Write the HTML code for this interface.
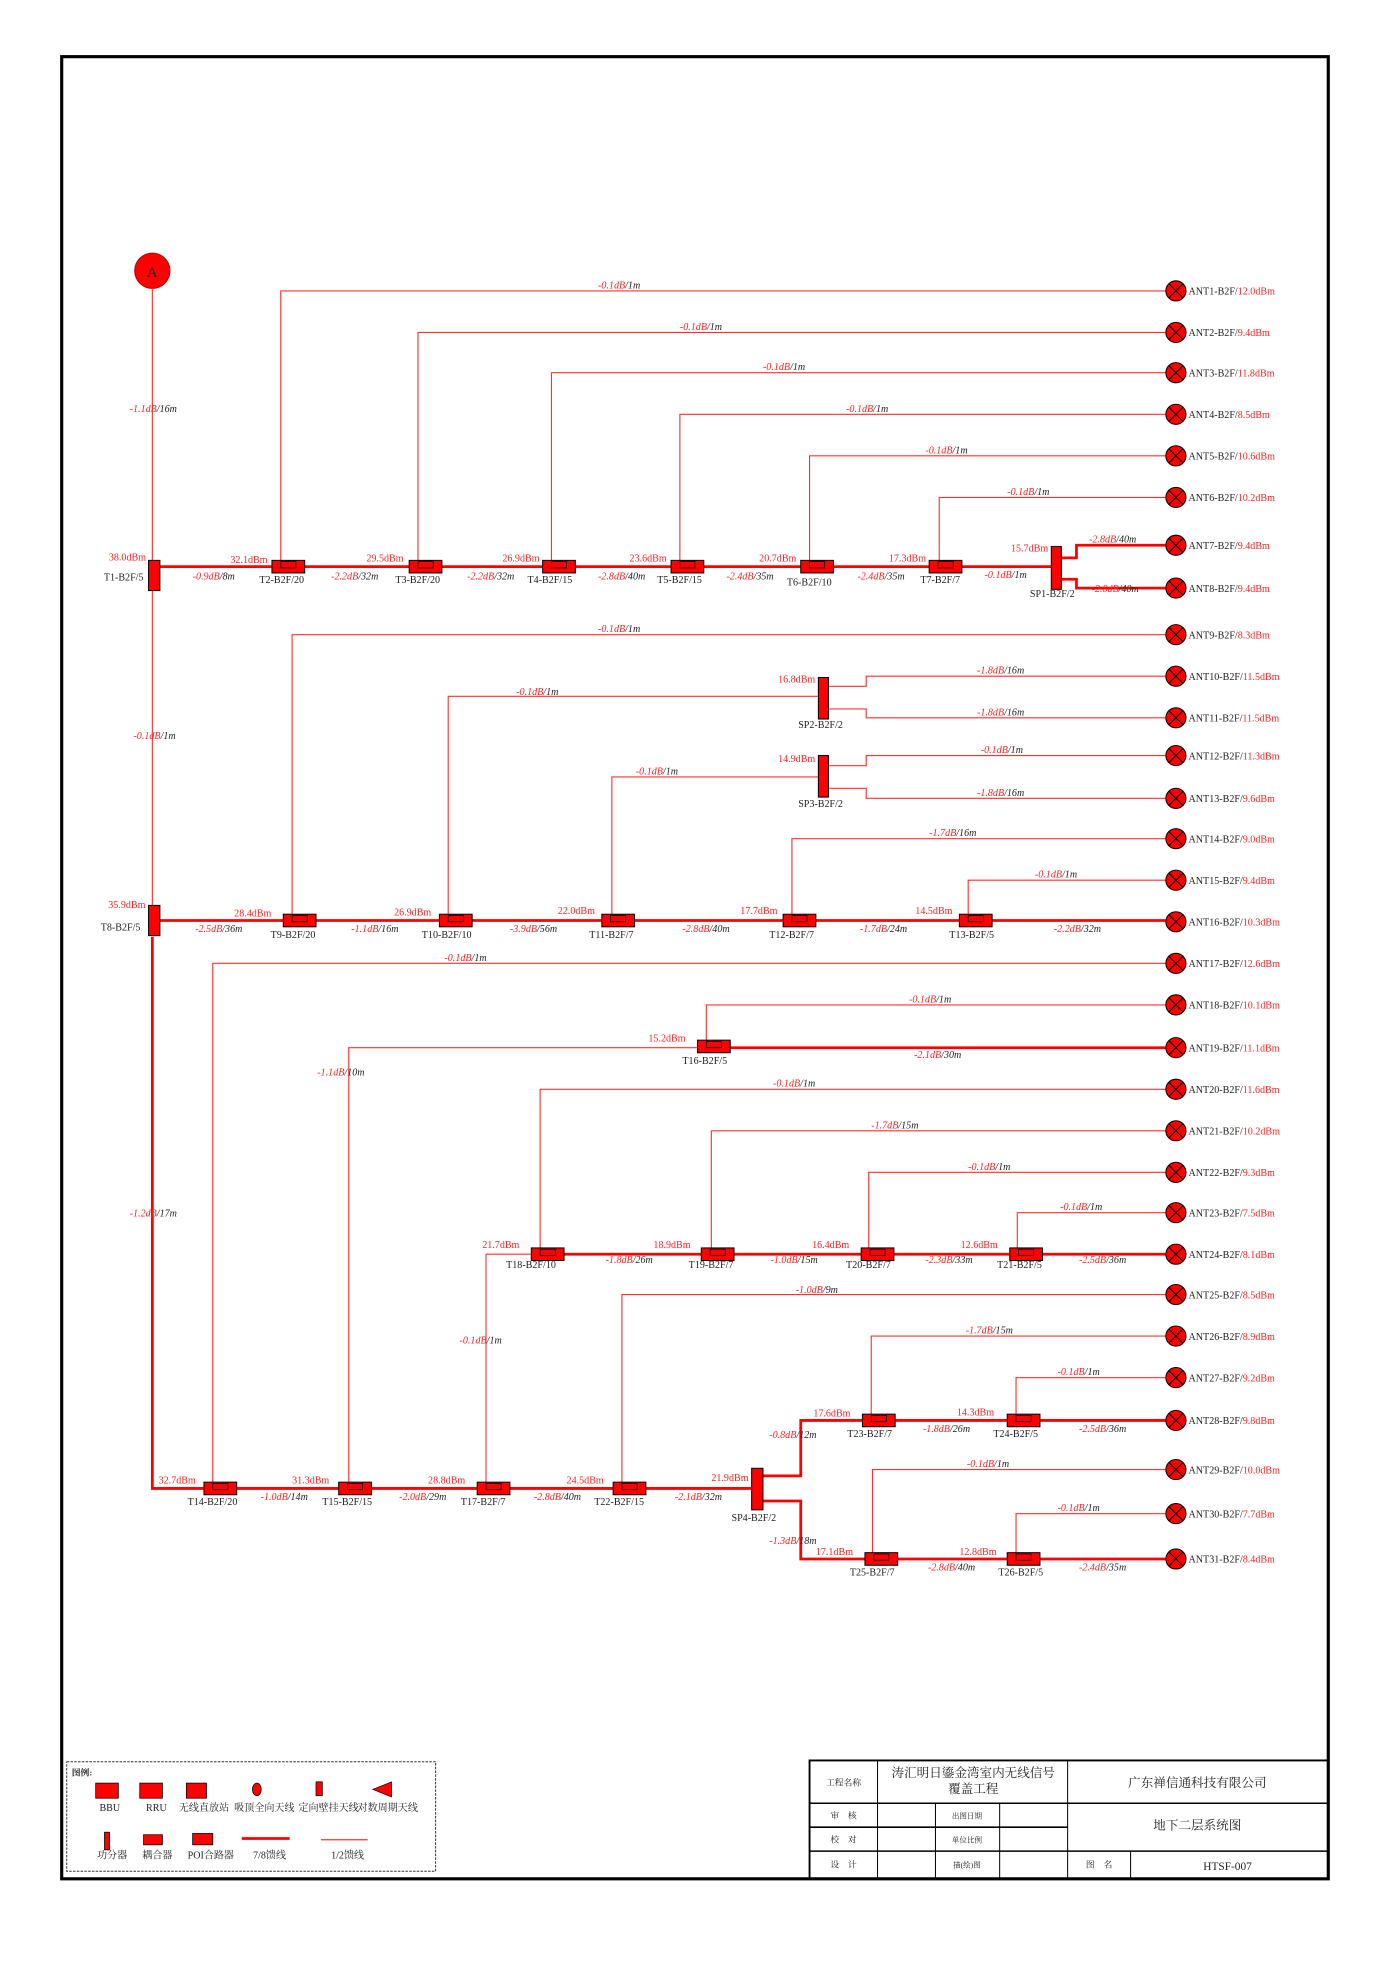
<!DOCTYPE html>
<html><head><meta charset="utf-8">
<style>
html,body{margin:0;padding:0;background:#fff;}
svg{display:block;}
text{font-family:"Liberation Serif","Noto Serif CJK SC",serif;font-size:8px;}
.r{fill:#ff2020;}
.k{fill:#222;}
.l{font-style:italic;}
.tk{stroke:#ff0000;stroke-width:2.2;fill:none;}
.tn{stroke:#ff3030;stroke-width:0.9;fill:none;}
.cn{font-family:"Liberation Serif","Noto Serif CJK SC",serif;}
</style></head><body>
<svg width="1395" height="1972" viewBox="0 0 1108 1566" preserveAspectRatio="none" xmlns="http://www.w3.org/2000/svg">
<defs>
<g id="tap"><rect x="-13" y="-6" width="26" height="10" fill="#f00" stroke="#000" stroke-width="0.8"/><rect x="-6" y="-5" width="12" height="5" fill="none" stroke="#000" stroke-width="0.6"/></g>
<g id="ant"><circle r="8" fill="#f00" stroke="#000" stroke-width="0.8"/><path d="M-5.6,-5.6L5.6,5.6M5.6,-5.6L-5.6,5.6" stroke="#000" stroke-width="0.9"/></g>
</defs>
<rect x="49" y="45" width="1006" height="1447" fill="none" stroke="#000" stroke-width="2.5"/>

<circle cx="121" cy="215" r="14" fill="#f00" stroke="#b00" stroke-width="0.8"/>
<text x="121" y="220" text-anchor="middle" style="font-size:12px" class="k">A</text>

<path class="tn" d="M121,229V445M121,469V720"/>
<path class="tk" d="M121,744V1182H597"/>
<text x="103" y="327" class="l"><tspan class="r">-1.1dB</tspan><tspan class="k">/16m</tspan></text>
<text x="106" y="587" class="l"><tspan class="r">-0.1dB</tspan><tspan class="k">/1m</tspan></text>
<text x="103" y="966" class="l"><tspan class="r">-1.2dB</tspan><tspan class="k">/17m</tspan></text>

<path class="tk" d="M127,450H835"/>
<path class="tn" d="M223,450V231H926M332,450V264H926M438,450V296H926M540,450V329H926M643,450V362H926M746,450V395H926"/>
<path class="tk" d="M843,443H855V433H926M843,460H855V467H926"/>
<rect x="118" y="445" width="9" height="24" fill="#f00" stroke="#000" stroke-width="0.8"/>
<text x="116" y="445" text-anchor="end" class="r">38.0dBm</text>
<text x="114" y="461" text-anchor="end" class="k">T1-B2F/5</text>
<use href="#tap" x="229" y="451"/><use href="#tap" x="338" y="451"/><use href="#tap" x="444" y="451"/>
<use href="#tap" x="546" y="451"/><use href="#tap" x="649" y="451"/><use href="#tap" x="751" y="451"/>
<rect x="835" y="434" width="8" height="34" fill="#f00" stroke="#000" stroke-width="0.8"/>
<text x="183" y="447" class="r">32.1dBm</text><text x="291" y="446" class="r">29.5dBm</text><text x="399" y="446" class="r">26.9dBm</text>
<text x="500" y="446" class="r">23.6dBm</text><text x="603" y="446" class="r">20.7dBm</text><text x="706" y="446" class="r">17.3dBm</text>
<text x="803" y="438" class="r">15.7dBm</text>
<text x="206" y="463" class="k">T2-B2F/20</text><text x="314" y="463" class="k">T3-B2F/20</text><text x="419" y="463" class="k">T4-B2F/15</text>
<text x="522" y="463" class="k">T5-B2F/15</text><text x="625" y="465" class="k">T6-B2F/10</text><text x="731" y="463" class="k">T7-B2F/7</text>
<text x="818" y="474" class="k">SP1-B2F/2</text>
<g class="l">
<text x="153" y="460"><tspan class="r">-0.9dB</tspan><tspan class="k">/8m</tspan></text>
<text x="263" y="460"><tspan class="r">-2.2dB</tspan><tspan class="k">/32m</tspan></text>
<text x="371" y="460"><tspan class="r">-2.2dB</tspan><tspan class="k">/32m</tspan></text>
<text x="475" y="460"><tspan class="r">-2.8dB</tspan><tspan class="k">/40m</tspan></text>
<text x="577" y="460"><tspan class="r">-2.4dB</tspan><tspan class="k">/35m</tspan></text>
<text x="681" y="460"><tspan class="r">-2.4dB</tspan><tspan class="k">/35m</tspan></text>
<text x="782" y="459"><tspan class="r">-0.1dB</tspan><tspan class="k">/1m</tspan></text>
<text x="865" y="431"><tspan class="r">-2.8dB</tspan><tspan class="k">/40m</tspan></text>
<text x="867" y="470"><tspan class="r">-2.8dB</tspan><tspan class="k">/40m</tspan></text>
<text x="475" y="229"><tspan class="r">-0.1dB</tspan><tspan class="k">/1m</tspan></text>
<text x="540" y="262"><tspan class="r">-0.1dB</tspan><tspan class="k">/1m</tspan></text>
<text x="606" y="294"><tspan class="r">-0.1dB</tspan><tspan class="k">/1m</tspan></text>
<text x="672" y="327"><tspan class="r">-0.1dB</tspan><tspan class="k">/1m</tspan></text>
<text x="735" y="360"><tspan class="r">-0.1dB</tspan><tspan class="k">/1m</tspan></text>
<text x="800" y="393"><tspan class="r">-0.1dB</tspan><tspan class="k">/1m</tspan></text>
</g>

<path class="tk" d="M127,731H926"/>
<path class="tn" d="M232,731V504H926M356,731V553H650M486,731V617H650M629,731V666H926M769,731V699H926"/>
<path class="tn" d="M658,545H688V537H926M658,563H688V570H926M658,608H688V600H926M658,626H688V634H926"/>
<rect x="118" y="719" width="9" height="24" fill="#f00" stroke="#000" stroke-width="0.8"/>
<rect x="650" y="538" width="8" height="33" fill="#f00" stroke="#000" stroke-width="0.8"/>
<rect x="650" y="600" width="8" height="33" fill="#f00" stroke="#000" stroke-width="0.8"/>
<use href="#tap" x="238" y="732"/><use href="#tap" x="362" y="732"/><use href="#tap" x="491" y="732"/>
<use href="#tap" x="635" y="732"/><use href="#tap" x="775" y="732"/>
<text x="86" y="721" class="r">35.9dBm</text><text x="80" y="739" class="k">T8-B2F/5</text>
<text x="186" y="728" class="r">28.4dBm</text><text x="313" y="727" class="r">26.9dBm</text><text x="443" y="726" class="r">22.0dBm</text>
<text x="588" y="726" class="r">17.7dBm</text><text x="727" y="726" class="r">14.5dBm</text>
<text x="618" y="542" class="r">16.8dBm</text><text x="618" y="605" class="r">14.9dBm</text>
<text x="634" y="578" class="k">SP2-B2F/2</text><text x="634" y="641" class="k">SP3-B2F/2</text>
<text x="215" y="745" class="k">T9-B2F/20</text><text x="335" y="745" class="k">T10-B2F/10</text><text x="468" y="745" class="k">T11-B2F/7</text>
<text x="611" y="745" class="k">T12-B2F/7</text><text x="754" y="745" class="k">T13-B2F/5</text>
<g class="l">
<text x="155" y="740"><tspan class="r">-2.5dB</tspan><tspan class="k">/36m</tspan></text>
<text x="279" y="740"><tspan class="r">-1.1dB</tspan><tspan class="k">/16m</tspan></text>
<text x="405" y="740"><tspan class="r">-3.9dB</tspan><tspan class="k">/56m</tspan></text>
<text x="542" y="740"><tspan class="r">-2.8dB</tspan><tspan class="k">/40m</tspan></text>
<text x="683" y="740"><tspan class="r">-1.7dB</tspan><tspan class="k">/24m</tspan></text>
<text x="837" y="740"><tspan class="r">-2.2dB</tspan><tspan class="k">/32m</tspan></text>
<text x="475" y="502"><tspan class="r">-0.1dB</tspan><tspan class="k">/1m</tspan></text>
<text x="410" y="552"><tspan class="r">-0.1dB</tspan><tspan class="k">/1m</tspan></text>
<text x="505" y="615"><tspan class="r">-0.1dB</tspan><tspan class="k">/1m</tspan></text>
<text x="776" y="535"><tspan class="r">-1.8dB</tspan><tspan class="k">/16m</tspan></text>
<text x="776" y="568"><tspan class="r">-1.8dB</tspan><tspan class="k">/16m</tspan></text>
<text x="779" y="598"><tspan class="r">-0.1dB</tspan><tspan class="k">/1m</tspan></text>
<text x="776" y="632"><tspan class="r">-1.8dB</tspan><tspan class="k">/16m</tspan></text>
<text x="738" y="664"><tspan class="r">-1.7dB</tspan><tspan class="k">/16m</tspan></text>
<text x="822" y="697"><tspan class="r">-0.1dB</tspan><tspan class="k">/1m</tspan></text>
</g>

<path class="tn" d="M169,1182V765H926M277,1182V832H554M561,832V798H926M386,1182V996H422M429,996V865H926M565,996V898H926M690,996V931H926M808,996V963H926M494,1182V1028H926"/>
<path class="tk" d="M554,832H926M422,996H926"/>
<path class="tk" d="M606,1172H636V1128H926M606,1192H636V1238H926"/>
<path class="tn" d="M692,1128V1061H926M807,1128V1094H926M693,1238V1167H926M807,1238V1202H926"/>
<use href="#tap" x="175" y="1183"/><use href="#tap" x="282" y="1183"/><use href="#tap" x="392" y="1183"/><use href="#tap" x="500" y="1183"/>
<use href="#tap" x="567" y="832"/>
<use href="#tap" x="435" y="997"/><use href="#tap" x="570" y="997"/><use href="#tap" x="697" y="997"/><use href="#tap" x="815" y="997"/>
<use href="#tap" x="698" y="1129"/><use href="#tap" x="813" y="1129"/><use href="#tap" x="700" y="1239"/><use href="#tap" x="813" y="1239"/>
<rect x="597" y="1166" width="9" height="33" fill="#f00" stroke="#000" stroke-width="0.8"/>
<text x="126" y="1178" class="r">32.7dBm</text><text x="232" y="1178" class="r">31.3dBm</text><text x="340" y="1178" class="r">28.8dBm</text>
<text x="450" y="1178" class="r">24.5dBm</text><text x="565" y="1176" class="r">21.9dBm</text>
<text x="149" y="1195" class="k">T14-B2F/20</text><text x="256" y="1195" class="k">T15-B2F/15</text><text x="366" y="1195" class="k">T17-B2F/7</text>
<text x="472" y="1195" class="k">T22-B2F/15</text><text x="581" y="1208" class="k">SP4-B2F/2</text>
<text x="515" y="827" class="r">15.2dBm</text><text x="542" y="845" class="k">T16-B2F/5</text>
<text x="383" y="991" class="r">21.7dBm</text><text x="519" y="991" class="r">18.9dBm</text><text x="645" y="991" class="r">16.4dBm</text><text x="763" y="991" class="r">12.6dBm</text>
<text x="402" y="1007" class="k">T18-B2F/10</text><text x="547" y="1007" class="k">T19-B2F/7</text><text x="672" y="1007" class="k">T20-B2F/7</text><text x="792" y="1007" class="k">T21-B2F/5</text>
<text x="646" y="1125" class="r">17.6dBm</text><text x="760" y="1124" class="r">14.3dBm</text>
<text x="673" y="1141" class="k">T23-B2F/7</text><text x="789" y="1141" class="k">T24-B2F/5</text>
<text x="648" y="1235" class="r">17.1dBm</text><text x="762" y="1235" class="r">12.8dBm</text>
<text x="675" y="1251" class="k">T25-B2F/7</text><text x="793" y="1251" class="k">T26-B2F/5</text>
<g class="l">
<text x="207" y="1191"><tspan class="r">-1.0dB</tspan><tspan class="k">/14m</tspan></text>
<text x="317" y="1191"><tspan class="r">-2.0dB</tspan><tspan class="k">/29m</tspan></text>
<text x="424" y="1191"><tspan class="r">-2.8dB</tspan><tspan class="k">/40m</tspan></text>
<text x="536" y="1191"><tspan class="r">-2.1dB</tspan><tspan class="k">/32m</tspan></text>
<text x="353" y="763"><tspan class="r">-0.1dB</tspan><tspan class="k">/1m</tspan></text>
<text x="252" y="854"><tspan class="r">-1.1dB</tspan><tspan class="k">/10m</tspan></text>
<text x="722" y="796"><tspan class="r">-0.1dB</tspan><tspan class="k">/1m</tspan></text>
<text x="726" y="840"><tspan class="r">-2.1dB</tspan><tspan class="k">/30m</tspan></text>
<text x="614" y="863"><tspan class="r">-0.1dB</tspan><tspan class="k">/1m</tspan></text>
<text x="692" y="896"><tspan class="r">-1.7dB</tspan><tspan class="k">/15m</tspan></text>
<text x="769" y="929"><tspan class="r">-0.1dB</tspan><tspan class="k">/1m</tspan></text>
<text x="842" y="961"><tspan class="r">-0.1dB</tspan><tspan class="k">/1m</tspan></text>
<text x="481" y="1003"><tspan class="r">-1.8dB</tspan><tspan class="k">/26m</tspan></text>
<text x="612" y="1003"><tspan class="r">-1.0dB</tspan><tspan class="k">/15m</tspan></text>
<text x="735" y="1003"><tspan class="r">-2.3dB</tspan><tspan class="k">/33m</tspan></text>
<text x="857" y="1003"><tspan class="r">-2.5dB</tspan><tspan class="k">/36m</tspan></text>
<text x="365" y="1067"><tspan class="r">-0.1dB</tspan><tspan class="k">/1m</tspan></text>
<text x="632" y="1027"><tspan class="r">-1.0dB</tspan><tspan class="k">/9m</tspan></text>
<text x="767" y="1059"><tspan class="r">-1.7dB</tspan><tspan class="k">/15m</tspan></text>
<text x="840" y="1092"><tspan class="r">-0.1dB</tspan><tspan class="k">/1m</tspan></text>
<text x="611" y="1142"><tspan class="r">-0.8dB</tspan><tspan class="k">/12m</tspan></text>
<text x="733" y="1137"><tspan class="r">-1.8dB</tspan><tspan class="k">/26m</tspan></text>
<text x="857" y="1137"><tspan class="r">-2.5dB</tspan><tspan class="k">/36m</tspan></text>
<text x="768" y="1165"><tspan class="r">-0.1dB</tspan><tspan class="k">/1m</tspan></text>
<text x="840" y="1200"><tspan class="r">-0.1dB</tspan><tspan class="k">/1m</tspan></text>
<text x="611" y="1226"><tspan class="r">-1.3dB</tspan><tspan class="k">/18m</tspan></text>
<text x="737" y="1247"><tspan class="r">-2.8dB</tspan><tspan class="k">/40m</tspan></text>
<text x="857" y="1247"><tspan class="r">-2.4dB</tspan><tspan class="k">/35m</tspan></text>
</g>

<use href="#ant" x="934" y="231"/><use href="#ant" x="934" y="264"/><use href="#ant" x="934" y="296"/><use href="#ant" x="934" y="329"/>
<use href="#ant" x="934" y="362"/><use href="#ant" x="934" y="395"/><use href="#ant" x="934" y="433"/><use href="#ant" x="934" y="467"/>
<use href="#ant" x="934" y="504"/><use href="#ant" x="934" y="537"/><use href="#ant" x="934" y="570"/><use href="#ant" x="934" y="600"/>
<use href="#ant" x="934" y="634"/><use href="#ant" x="934" y="666"/><use href="#ant" x="934" y="699"/><use href="#ant" x="934" y="732"/>
<use href="#ant" x="934" y="765"/><use href="#ant" x="934" y="798"/><use href="#ant" x="934" y="832"/><use href="#ant" x="934" y="865"/>
<use href="#ant" x="934" y="898"/><use href="#ant" x="934" y="931"/><use href="#ant" x="934" y="963"/><use href="#ant" x="934" y="996"/>
<use href="#ant" x="934" y="1028"/><use href="#ant" x="934" y="1061"/><use href="#ant" x="934" y="1094"/><use href="#ant" x="934" y="1128"/>
<use href="#ant" x="934" y="1167"/><use href="#ant" x="934" y="1202"/><use href="#ant" x="934" y="1238"/>
<g>
<text x="944" y="234"><tspan class="k">ANT1-B2F/</tspan><tspan class="r">12.0dBm</tspan></text>
<text x="944" y="267"><tspan class="k">ANT2-B2F/</tspan><tspan class="r">9.4dBm</tspan></text>
<text x="944" y="299"><tspan class="k">ANT3-B2F/</tspan><tspan class="r">11.8dBm</tspan></text>
<text x="944" y="332"><tspan class="k">ANT4-B2F/</tspan><tspan class="r">8.5dBm</tspan></text>
<text x="944" y="365"><tspan class="k">ANT5-B2F/</tspan><tspan class="r">10.6dBm</tspan></text>
<text x="944" y="398"><tspan class="k">ANT6-B2F/</tspan><tspan class="r">10.2dBm</tspan></text>
<text x="944" y="436"><tspan class="k">ANT7-B2F/</tspan><tspan class="r">9.4dBm</tspan></text>
<text x="944" y="470"><tspan class="k">ANT8-B2F/</tspan><tspan class="r">9.4dBm</tspan></text>
<text x="944" y="507"><tspan class="k">ANT9-B2F/</tspan><tspan class="r">8.3dBm</tspan></text>
<text x="944" y="540"><tspan class="k">ANT10-B2F/</tspan><tspan class="r">11.5dBm</tspan></text>
<text x="944" y="573"><tspan class="k">ANT11-B2F/</tspan><tspan class="r">11.5dBm</tspan></text>
<text x="944" y="603"><tspan class="k">ANT12-B2F/</tspan><tspan class="r">11.3dBm</tspan></text>
<text x="944" y="637"><tspan class="k">ANT13-B2F/</tspan><tspan class="r">9.6dBm</tspan></text>
<text x="944" y="669"><tspan class="k">ANT14-B2F/</tspan><tspan class="r">9.0dBm</tspan></text>
<text x="944" y="702"><tspan class="k">ANT15-B2F/</tspan><tspan class="r">9.4dBm</tspan></text>
<text x="944" y="735"><tspan class="k">ANT16-B2F/</tspan><tspan class="r">10.3dBm</tspan></text>
<text x="944" y="768"><tspan class="k">ANT17-B2F/</tspan><tspan class="r">12.6dBm</tspan></text>
<text x="944" y="801"><tspan class="k">ANT18-B2F/</tspan><tspan class="r">10.1dBm</tspan></text>
<text x="944" y="835"><tspan class="k">ANT19-B2F/</tspan><tspan class="r">11.1dBm</tspan></text>
<text x="944" y="868"><tspan class="k">ANT20-B2F/</tspan><tspan class="r">11.6dBm</tspan></text>
<text x="944" y="901"><tspan class="k">ANT21-B2F/</tspan><tspan class="r">10.2dBm</tspan></text>
<text x="944" y="934"><tspan class="k">ANT22-B2F/</tspan><tspan class="r">9.3dBm</tspan></text>
<text x="944" y="966"><tspan class="k">ANT23-B2F/</tspan><tspan class="r">7.5dBm</tspan></text>
<text x="944" y="999"><tspan class="k">ANT24-B2F/</tspan><tspan class="r">8.1dBm</tspan></text>
<text x="944" y="1031"><tspan class="k">ANT25-B2F/</tspan><tspan class="r">8.5dBm</tspan></text>
<text x="944" y="1064"><tspan class="k">ANT26-B2F/</tspan><tspan class="r">8.9dBm</tspan></text>
<text x="944" y="1097"><tspan class="k">ANT27-B2F/</tspan><tspan class="r">9.2dBm</tspan></text>
<text x="944" y="1131"><tspan class="k">ANT28-B2F/</tspan><tspan class="r">9.8dBm</tspan></text>
<text x="944" y="1170"><tspan class="k">ANT29-B2F/</tspan><tspan class="r">10.0dBm</tspan></text>
<text x="944" y="1205"><tspan class="k">ANT30-B2F/</tspan><tspan class="r">7.7dBm</tspan></text>
<text x="944" y="1241"><tspan class="k">ANT31-B2F/</tspan><tspan class="r">8.4dBm</tspan></text>
</g>

<rect x="53" y="1399" width="293" height="87" fill="none" stroke="#333" stroke-width="0.8" stroke-dasharray="2,1"/>
<text x="57" y="1410" class="k cn" style="font-size:7px;font-weight:bold">图例:</text>
<rect x="76" y="1416" width="18" height="12" fill="#f00" stroke="#000" stroke-width="0.6"/>
<rect x="111" y="1416" width="18" height="12" fill="#f00" stroke="#000" stroke-width="0.6"/>
<rect x="148" y="1416" width="16" height="12" fill="#f00" stroke="#000" stroke-width="0.6"/>
<ellipse cx="204" cy="1421" rx="3.5" ry="5" fill="#f00" stroke="#000" stroke-width="0.6"/>
<rect x="251" y="1415" width="5" height="11" fill="#f00" stroke="#000" stroke-width="0.6"/>
<path d="M296,1421L311,1415V1427Z" fill="#f00" stroke="#000" stroke-width="0.5"/>
<g class="k cn" style="font-size:5px">
<text x="79" y="1438">BBU</text><text x="116" y="1438">RRU</text><text x="142" y="1438">无线直放站</text><text x="186" y="1438">吸顶全向天线</text>
<text x="237" y="1438">定向壁挂天线</text><text x="284" y="1438">对数周期天线</text>
<text x="77" y="1476">功分器</text><text x="113" y="1476">耦合器</text><text x="149" y="1476">POI合路器</text>
<text x="201" y="1476">7/8馈线</text><text x="263" y="1476">1/2馈线</text>
</g>
<rect x="83" y="1455" width="4" height="14" fill="#f00" stroke="#000" stroke-width="0.6"/>
<rect x="114" y="1457" width="15" height="8" fill="#f00" stroke="#000" stroke-width="0.6"/>
<rect x="153" y="1456" width="16" height="9" fill="#f00" stroke="#000" stroke-width="0.6"/>
<line x1="192" y1="1460" x2="230" y2="1460" stroke="#f00" stroke-width="2.2"/>
<line x1="255" y1="1461" x2="292" y2="1461" stroke="#f33" stroke-width="1"/>

<g stroke="#000" fill="none">
<rect x="643" y="1398" width="412" height="94" stroke-width="1.5"/>
<path d="M643,1432H1055M643,1451H848M643,1470H1055" stroke-width="1.2"/>
<path d="M697,1398V1492M848,1398V1492M743,1432V1492M794,1432V1492M898,1470V1492" stroke-width="0.8"/>
</g>
<g class="k cn">
<text x="670" y="1418" text-anchor="middle" style="font-size:7px">工程名称</text>
<text x="773" y="1411" text-anchor="middle" style="font-size:10px">涛汇明日鎏金湾室内无线信号</text>
<text x="773" y="1424" text-anchor="middle" style="font-size:10px">覆盖工程</text>
<text x="951" y="1419" text-anchor="middle" style="font-size:10px">广东禅信通科技有限公司</text>
<text x="670" y="1444" text-anchor="middle" style="font-size:7px">审　核</text>
<text x="670" y="1463" text-anchor="middle" style="font-size:7px">校　对</text>
<text x="670" y="1483" text-anchor="middle" style="font-size:7px">设　计</text>
<text x="768" y="1444" text-anchor="middle" style="font-size:6px">出图日期</text>
<text x="768" y="1463" text-anchor="middle" style="font-size:6px">单位比例</text>
<text x="768" y="1483" text-anchor="middle" style="font-size:6px">描(绘)图</text>
<text x="951" y="1453" text-anchor="middle" style="font-size:10px">地下二层系统图</text>
<text x="873" y="1483" text-anchor="middle" style="font-size:7px">图　名</text>
<text x="975" y="1485" text-anchor="middle" style="font-size:9px">HTSF-007</text>
</g>
</svg>
</body></html>
